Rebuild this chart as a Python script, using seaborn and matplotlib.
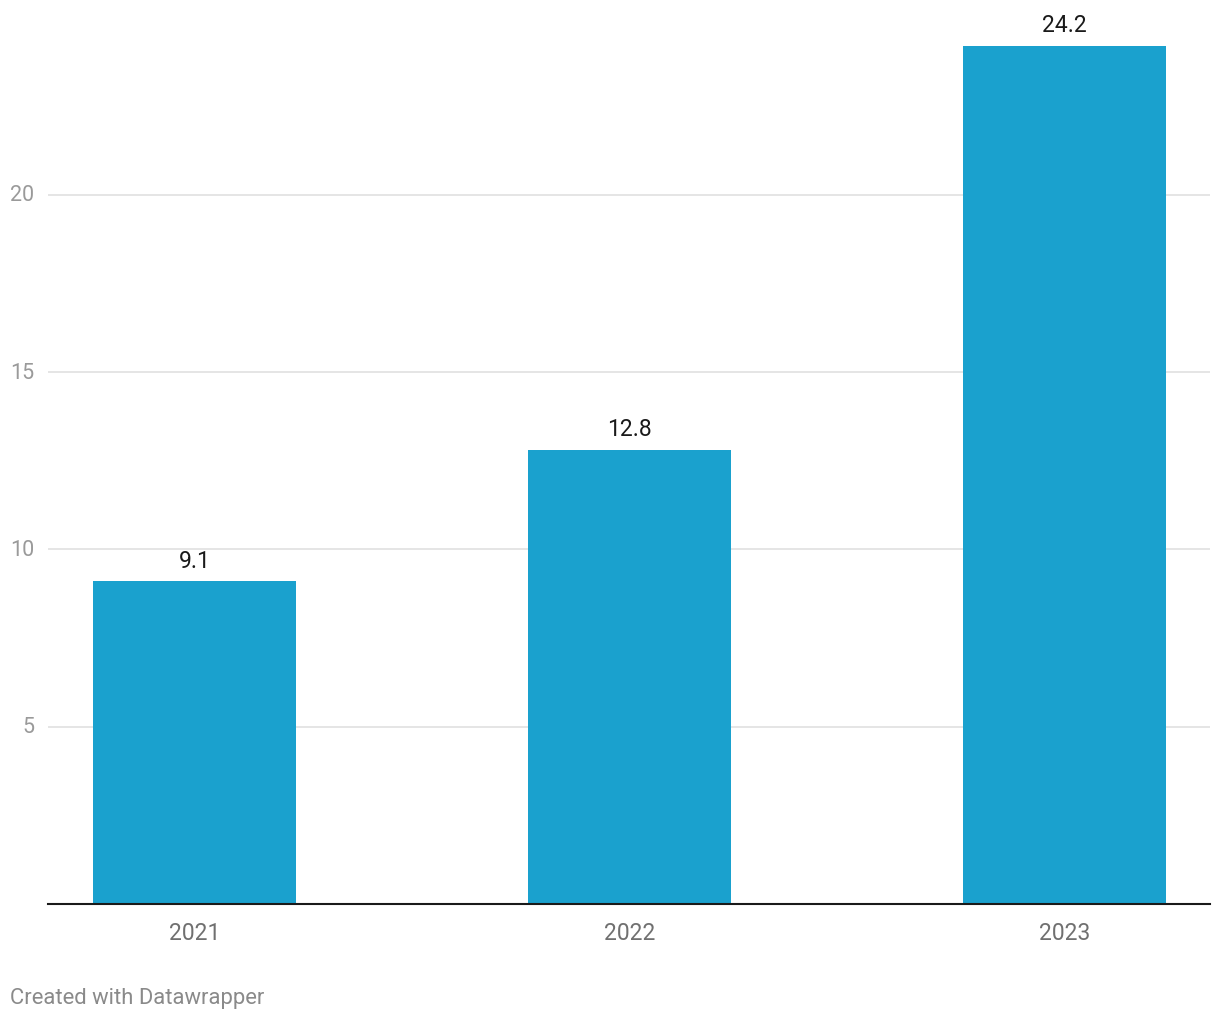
import pandas as pd
import matplotlib.pyplot as plt
import seaborn as sns

# Chart values
years = ['2021', '2022', '2023']
values = [9.1, 12.8, 24.2]
y_ticks = [5, 10, 15, 20]

df = pd.DataFrame({'year': years, 'value': values})

sns.set_style('white')
plt.rcParams['font.family'] = ['Roboto', 'DejaVu Sans']

fig = plt.figure(figsize=(12.2, 10.2), dpi=100)
ax = fig.add_axes([48 / 1220, 1 - 905 / 1020, (1210 - 48) / 1220, 886.5 / 1020])

sns.barplot(data=df, x='year', y='value', color='#1aa1ce', saturation=1,
            width=0.467, linewidth=0, ax=ax)

ax.set_xlim(-0.337, 2.334)
ax.set_ylim(0, 25)

# Grid lines
for t in y_ticks:
    ax.axhline(t, color='#e0e0e0', linewidth=1.2, zorder=0)
ax.set_axisbelow(True)

ax.set_yticks(y_ticks)
ax.set_yticklabels([str(t) for t in y_ticks])
ax.tick_params(axis='y', length=0, pad=10, labelsize=15.5, labelcolor='#9a9a9a')
ax.tick_params(axis='x', length=0, pad=12, labelsize=16.5, labelcolor='#707070')
for lbl in ax.get_yticklabels():
    lbl.set_verticalalignment('center')

for side in ['top', 'right', 'left']:
    ax.spines[side].set_visible(False)
ax.spines['bottom'].set_color('#1a1a1a')
ax.spines['bottom'].set_linewidth(1.5)
ax.set_xlabel('')
ax.set_ylabel('')

# Value labels
for i, v in enumerate(values):
    ax.annotate(f'{v:.1f}', xy=(i, v), xytext=(0, 7), textcoords='offset points',
                ha='center', va='bottom', fontsize=16.5, color='#1a1a1a')

fig.text(10 / 1220, 1 - 999 / 1020, 'Created with Datawrapper', fontsize=15.8,
         color='#8a8a8a', ha='left', va='center')

fig.savefig('out.png', dpi=100)
